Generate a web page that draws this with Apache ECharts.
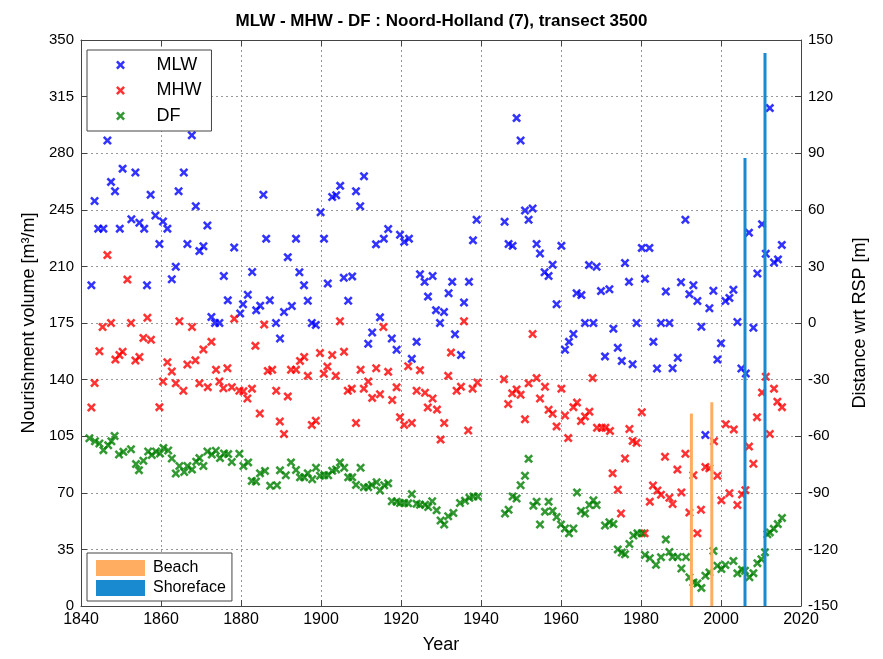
<!DOCTYPE html>
<html>
<head>
<meta charset="utf-8">
<script src="https://cdn.jsdelivr.net/npm/echarts@6/dist/echarts.min.js"></script>
<style>
  html, body { margin: 0; padding: 0; background: #fff; }
  #chart { width: 883px; height: 659px; }
</style>
</head>
<body>
<div id="chart"></div>
<script>
// [year, distance wrt RSP (m)]  -> right axis
const mlwPoints = [
  [1842.6, 20], [1843.4, 64.7], [1844.3, 50], [1845.6, 50], [1846.6, 96.7], [1847.5, 74.8],
  [1848.5, 69.8], [1849.7, 50], [1850.4, 81.8], [1852.6, 55], [1853.6, 79.8], [1854.6, 53.1],
  [1855.8, 50], [1856.5, 20], [1857.4, 68], [1858.6, 57], [1859.6, 41.9], [1860.5, 53.8],
  [1861.6, 50], [1862.7, 23.2], [1863.7, 29.8], [1864.4, 69.8], [1865.7, 79.8], [1866.6, 41.9],
  [1867.7, 99.5], [1868.7, 61.9], [1869.6, 38.1], [1870.6, 40.7], [1871.6, 51.7], [1872.6, 3.2],
  [1873.5, 0], [1874.6, 0], [1875.7, 24.9], [1876.7, 12], [1878.3, 40], [1879.8, 5],
  [1880.5, 9.9], [1881.7, 15], [1882.8, 27], [1883.8, 6.7], [1884.8, 9.2], [1885.6, 68],
  [1886.3, 44.7], [1887.2, 12], [1888.75, 0], [1889.75, -8.2], [1890.75, 5.8], [1891.7, 34.9],
  [1892.7, 9], [1893.75, 44.7], [1894.6, 26.9], [1895.75, 20], [1896.7, 11.8], [1897.7, 0],
  [1898.7, -1], [1899.9, 58.7], [1900.75, 44.7], [1901.7, 20.9], [1902.8, 66.8], [1903.8, 67.7],
  [1904.8, 72.7], [1905.7, 24], [1906.8, 11.8], [1907.8, 24.7], [1908.75, 69.8], [1909.8, 61.9],
  [1910.75, 77.8], [1911.8, -11], [1912.8, -5], [1913.75, 41.7], [1914.75, 3], [1915.7, 44.7],
  [1916.8, 49.8], [1917.7, -8.2], [1918.9, -14.2], [1919.75, 46.8], [1920.8, 43], [1922, 44.7],
  [1922.7, -19], [1923.9, -10], [1924.75, 25.8], [1925.9, 21.8], [1926.75, 14], [1927.9, 24.9],
  [1928.75, 6.8], [1929.75, 0], [1930.75, 5.8], [1931.9, 15.8], [1932.8, 21.8], [1933.5, -6],
  [1935, -17], [1935.75, 10.9], [1937, 21.8], [1938, 43.8], [1938.9, 54.7], [1945.9, 53.7],
  [1946.9, 41.9], [1947.9, 40.9], [1948.9, 108.6], [1949.9, 96.7], [1951, 59.6], [1951.9, 54.7],
  [1952.9, 60.7], [1953.9, 41.9], [1954.75, 36.8], [1955.9, 26.9], [1956.9, 24.9], [1957.9, 30.9],
  [1958.9, 9.9], [1960.1, 40.9], [1961, -14.2], [1962, -10], [1963.1, -5.8], [1963.9, 15.8],
  [1965.1, 14.8], [1966, 0], [1967, 30.7], [1968.1, 0], [1968.9, 29.8], [1970, 16.9],
  [1971, -17.7], [1972.1, 17.9], [1973.1, -3], [1974.2, -13.1], [1975.2, -20.1], [1976, 31.8],
  [1977, 21.8], [1977.9, -21.9], [1978.9, 0], [1980.2, 39.8], [1981, 23.4], [1982.1, 39.8],
  [1983.1, -10], [1984, -24.1], [1985, 0], [1986.2, 16.7], [1987.1, 0], [1987.9, -24],
  [1989.2, -18.4], [1990, 21.6], [1991.1, 54.7], [1992.1, 15.3], [1993.1, 20], [1994.1, 11.7],
  [1995.1, -2], [1996.1, -59.4], [1997.1, 7.8], [1998.1, 17.1], [1999.1, -19.4], [2000, -10.7],
  [2001.1, 11.7], [2002.1, 13.3], [2003.1, 17.6], [2004.1, 0.5], [2005.1, -24.1], [2006.2, -26.8],
  [2007, 47.9], [2008.1, -2.5], [2009.1, 26.2], [2010.25, 52.4], [2011.2, 36.7], [2012.2, 113.9],
  [2013.25, 32.1], [2014.25, 33.7], [2015.2, 41.4]
];

const mhwPoints = [
  [1842.6, -44.8], [1843.4, -31.8], [1844.6, -15], [1845.4, -2.1], [1846.6, 36], [1847.5, 0],
  [1848.6, -19.4], [1849.6, -17], [1850.4, -15.2], [1851.6, 23], [1852.5, 0], [1853.6, -19.9],
  [1854.6, -18], [1855.6, -7.9], [1856.6, 2.8], [1857.5, -8.9], [1859.6, -44.6], [1860.5, -31],
  [1861.6, -20.8], [1862.7, -25.7], [1863.7, -32], [1864.6, 0.9], [1865.6, -35.9], [1866.6, -22],
  [1867.75, -2.1], [1868.6, -19.8], [1869.6, -32], [1870.6, -14], [1871.7, -34], [1872.6, -10],
  [1873.75, -24.8], [1874.6, -31], [1875.6, -34.6], [1876.6, -24], [1877.7, -34], [1878.3, 2.2],
  [1879.6, -35.9], [1880.6, -36.2], [1881.6, -40], [1882.75, -34.8], [1883.6, -12.1], [1884.7, -48],
  [1885.8, -0.8], [1886.7, -25.4], [1887.8, -24.8], [1888.8, -35.9], [1889.7, -52.2], [1890.75, -58.8],
  [1891.7, -38.9], [1892.5, -24.8], [1893.75, -24.8], [1894.75, -20.1], [1895.8, -18], [1896.7, -28],
  [1897.7, -54], [1898.7, -51.8], [1899.75, -15.9], [1900.7, -26.9], [1901.6, -23.1], [1902.8, -17],
  [1903.7, -28], [1904.75, 0.9], [1905.75, -15.2], [1906.7, -35.9], [1907.7, -34.8], [1908.75, -53],
  [1909.9, -24.8], [1910.7, -34.8], [1911.8, -31], [1912.8, -39.7], [1913.8, -24], [1914.75, -37.8],
  [1915.6, -2.1], [1916.8, -25.9], [1917.8, -40.8], [1918.9, -34.1], [1919.75, -49.9], [1920.8, -54],
  [1921.8, -22.9], [1922.7, -53], [1923.9, -35.9], [1924.75, -25], [1926, -37], [1926.7, -44.8],
  [1927.9, -40], [1929, -45.9], [1929.9, -61.8], [1930.8, -53], [1931.8, -28], [1932.5, -15.7],
  [1933.9, -35.9], [1935, -33.8], [1935.75, 0.9], [1936.8, -57], [1937.9, -34.8], [1939.1, -31.5],
  [1945.75, -29.8], [1946.8, -42.9], [1947.8, -37.3], [1948.9, -35.2], [1949.9, -38], [1951, -51],
  [1951.9, -32], [1952.9, -5.8], [1953.9, -29.2], [1954.75, -40], [1956, -33.8], [1956.9, -46],
  [1957.9, -48.1], [1958.9, -54.8], [1960.1, -34.8], [1961, -49], [1961.8, -61], [1963.1, -44.6],
  [1964, -42.2], [1965, -52], [1966, -49.5], [1967.1, -47], [1967.9, -29.2], [1969, -55.5],
  [1970.2, -55.5], [1971.1, -55.5], [1972.25, -57.2], [1972.9, -79.7], [1974.2, -88.4], [1975, -101],
  [1976, -71.8], [1977.1, -56.2], [1977.9, -62.5], [1978.9, -63.5], [1980.2, -47.3], [1980.9, -111.5],
  [1982.2, -94.7], [1983, -86.1], [1984.1, -88.8], [1985, -91], [1986, -70.9], [1987.1, -92.6],
  [1987.9, -95.9], [1989.1, -77.7], [1990.1, -89.8], [1991.1, -69.3], [1992.1, -100.5], [1993.1, -80.7],
  [1994.1, -111.5], [1995, -99], [1996.1, -76.3], [1997.1, -77], [1998.25, -62.7], [1999.1, -81],
  [2000.1, -94], [2001.2, -53.6], [2002.1, -90.2], [2003.2, -56.4], [2004.1, -96.5], [2005.25, -90.9],
  [2006.1, -88.6], [2007, -65.5], [2008.1, -74.6], [2009, -49.9], [2010.25, -36.9], [2011.2, -28.5],
  [2012.2, -58.8], [2013.25, -34.8], [2014.1, -41.7], [2015.25, -44.6]
];

const dfPoints = [
  [1842.1, -61.1], [1843.5, -62.7], [1844.6, -63.9], [1845.6, -67.4], [1846.8, -64.8], [1847.6, -62.7],
  [1848.4, -59.9], [1849.5, -69.7], [1850.6, -68.3], [1852.5, -66.9], [1853.75, -74.8], [1854.5, -78],
  [1855.6, -73], [1856.8, -68.1], [1857.7, -70], [1858.75, -68.1], [1859.75, -69.2], [1860.6, -66.2],
  [1861.8, -67.6], [1862.7, -71.8], [1863.7, -79.8], [1864.6, -75.8], [1865.8, -79], [1866.6, -75.8],
  [1867.75, -77.7], [1868.8, -73.5], [1869.6, -71.6], [1870.6, -75.8], [1871.6, -68.1], [1872.7, -69.7],
  [1873.7, -67.7], [1874.75, -71.6], [1875.75, -69.2], [1876.8, -69.5], [1877.7, -73.7], [1879.6, -69.3],
  [1880.6, -75.8], [1881.8, -73.9], [1882.7, -83.7], [1883.75, -84], [1884.75, -79.7], [1886, -78.4],
  [1887.3, -86.3], [1889, -86], [1889.75, -78.1], [1891.2, -80.7], [1892.5, -73.9], [1893.75, -77.9],
  [1894.75, -81.8], [1895.8, -81.8], [1896.7, -79.7], [1897.8, -82.8], [1898.75, -76.7], [1899.75, -81],
  [1900.8, -80.7], [1901.8, -80.7], [1902.8, -78.3], [1903.8, -77.6], [1904.75, -73.9], [1905.8, -76.7],
  [1906.8, -81.8], [1907.8, -81.8], [1908.75, -85.8], [1909.9, -76.7], [1910.7, -87], [1911.8, -87],
  [1912.7, -85.8], [1913.9, -84.4], [1914.75, -88.8], [1915.8, -86], [1916.8, -85], [1917.7, -94.5],
  [1918.9, -94.7], [1919.75, -95.4], [1920.8, -95.4], [1921.8, -95.6], [1922.7, -90.7], [1923.9, -95.8],
  [1924.75, -96.3], [1926, -96.3], [1926.8, -97.5], [1927.8, -94.5], [1928.9, -99.3], [1929.9, -104.7],
  [1930.8, -106.8], [1931.8, -102.4], [1933.1, -100.7], [1934.75, -95.4], [1936, -94.2], [1937.1, -92.6],
  [1938.1, -91.9], [1939.2, -91.9], [1946, -101], [1946.9, -99], [1947.9, -91.9], [1948.9, -93],
  [1949.9, -86], [1951, -81], [1951.9, -72], [1953.1, -96.8], [1953.9, -94.7], [1954.75, -106.8],
  [1956, -100], [1956.9, -94.7], [1957.9, -99.6], [1958.9, -102.8], [1960, -106.8], [1961, -108.9],
  [1962, -111.5], [1963.1, -108.9], [1964, -89.8], [1965, -99.6], [1966, -101], [1967.1, -96.5],
  [1968.1, -94], [1968.9, -96.5], [1971, -107.3], [1972.1, -105.6], [1973.1, -106.6], [1974.2, -120],
  [1975.2, -121.7], [1976, -122.6], [1977.1, -117.1], [1978.1, -112.6], [1979.1, -111.5], [1980.2, -111.5],
  [1981, -123], [1982.2, -124.7], [1983.75, -128.2], [1985, -124.1], [1986.2, -114.7], [1987.1, -121.4],
  [1987.9, -124], [1989.2, -124], [1990.1, -130.1], [1991.25, -124], [1992.1, -134.8], [1993.1, -137.5],
  [1994.1, -138.1], [1995.1, -140.4], [1996.1, -134], [1997.1, -132.2], [1998.1, -120.8], [1999.1, -128.7],
  [2000.1, -130.4], [2001.1, -128.3], [2003.1, -126.1], [2004.1, -132.7], [2005.25, -130.8], [2006, -131.3],
  [2007.1, -134.8], [2008.1, -132.6], [2009.1, -127.3], [2010.1, -125.2], [2011, -121.5], [2011.6, -112],
  [2012.2, -111], [2013.2, -109.1], [2014.2, -106.6], [2015.25, -103.3]
];

// [year, nourishment volume (m3/m)]  -> left axis
const beachBars = [[1992.6, 119], [1997.7, 126]];
const shorefaceBars = [[2006.0, 277], [2011.0, 342]];

const FONT = "'Liberation Sans', Arial, sans-serif";
// x-shaped marker as a filled polygon
const XMARK = 'path://M0,2L2,0L5,3L8,0L10,2L7,5L10,8L8,10L5,7L2,10L0,8L3,5Z';
const axisCol = '#444';
const gridLine = { show: true, lineStyle: { color: '#999', type: [2, 3], width: 1 } };

var myChart = echarts.init(document.getElementById('chart'));

function scatter(name, data, color) {
  return {
    name: name,
    type: 'scatter',
    xAxisIndex: 0,
    yAxisIndex: 1,
    symbol: XMARK,
    symbolSize: 9,
    itemStyle: { color: color },
    data: data,
    z: 2
  };
}

function bar(name, data, color) {
  return {
    name: name,
    type: 'bar',
    xAxisIndex: 0,
    yAxisIndex: 0,
    barWidth: 3,
    barGap: '-100%',
    itemStyle: { color: color },
    data: data,
    z: 3
  };
}

let option = {
  animation: false,
  textStyle: { fontFamily: FONT },
  title: {
    text: 'MLW - MHW - DF : Noord-Holland (7), transect 3500',
    left: 'center',
    top: 8,
    textStyle: { fontFamily: FONT, fontSize: 17, fontWeight: 'bold', color: '#000' }
  },
  grid: { left: 81, right: 82, top: 40, bottom: 49, containLabel: false },
  legend: [
    {
      data: [
        { name: 'MLW', icon: XMARK },
        { name: 'MHW', icon: XMARK },
        { name: 'DF', icon: XMARK }
      ],
      orient: 'vertical',
      left: 87,
      top: 50,
      itemWidth: 62,
      itemHeight: 9,
      itemGap: 7.5,
      padding: [6, 10, 6, 29],
      borderColor: axisCol,
      borderWidth: 1,
      backgroundColor: '#fff',
      textStyle: { fontFamily: FONT, fontSize: 18, color: '#000', lineHeight: 18 }
    },
    {
      data: [
        { name: 'Beach', icon: 'rect' },
        { name: 'Shoreface', icon: 'rect' }
      ],
      orient: 'vertical',
      left: 87,
      top: 553,
      itemWidth: 49,
      itemHeight: 16,
      itemGap: 4,
      padding: [7, 6, 5, 9],
      borderColor: axisCol,
      borderWidth: 1,
      backgroundColor: '#fff',
      textStyle: { fontFamily: FONT, fontSize: 16, color: '#000', padding: [0, 0, 0, 3] }
    }
  ],
  xAxis: [
    {
      type: 'value',
      min: 1840,
      max: 2020,
      interval: 20,
      name: 'Year',
      nameLocation: 'middle',
      nameGap: 30,
      nameTextStyle: { fontFamily: FONT, fontSize: 18, color: '#000' },
      axisLine: { show: true, onZero: false, lineStyle: { color: axisCol } },
      axisTick: { show: true, inside: true, length: 6, lineStyle: { color: axisCol } },
      axisLabel: { fontFamily: FONT, fontSize: 16, color: '#000', margin: 6, formatter: v => String(v) },
      splitLine: gridLine
    },
    {
      type: 'value',
      position: 'top',
      min: 1840,
      max: 2020,
      interval: 20,
      axisLine: { show: true, onZero: false, lineStyle: { color: axisCol } },
      axisTick: { show: true, inside: true, length: 6, lineStyle: { color: axisCol } },
      axisLabel: { show: false },
      splitLine: { show: false }
    }
  ],
  yAxis: [
    {
      type: 'value',
      min: 0,
      max: 350,
      interval: 35,
      name: 'Nourishment volume [m³/m]',
      nameLocation: 'middle',
      nameGap: 40,
      nameTextStyle: { fontFamily: FONT, fontSize: 18, color: '#000' },
      axisLine: { show: true, onZero: false, lineStyle: { color: axisCol } },
      axisTick: { show: true, inside: true, length: 6, lineStyle: { color: axisCol } },
      axisLabel: { fontFamily: FONT, fontSize: 15, color: '#000', margin: 7 },
      splitLine: gridLine
    },
    {
      type: 'value',
      position: 'right',
      min: -150,
      max: 150,
      interval: 30,
      name: 'Distance wrt RSP [m]',
      nameLocation: 'middle',
      nameGap: 50,
      nameRotate: 90,
      nameTextStyle: { fontFamily: FONT, fontSize: 18, color: '#000' },
      axisLine: { show: true, onZero: false, lineStyle: { color: axisCol } },
      axisTick: { show: true, inside: true, length: 6, lineStyle: { color: axisCol } },
      axisLabel: { fontFamily: FONT, fontSize: 15, color: '#000', margin: 7 },
      splitLine: { show: false }
    }
  ],
  series: [
    scatter('MLW', mlwPoints, '#0000ff'),
    scatter('MHW', mhwPoints, '#ff0000'),
    scatter('DF', dfPoints, '#008000'),
    bar('Beach', beachBars, '#ffad60'),
    bar('Shoreface', shorefaceBars, '#1a8ad0')
  ]
};
myChart.setOption(option);
</script>
</body>
</html>
